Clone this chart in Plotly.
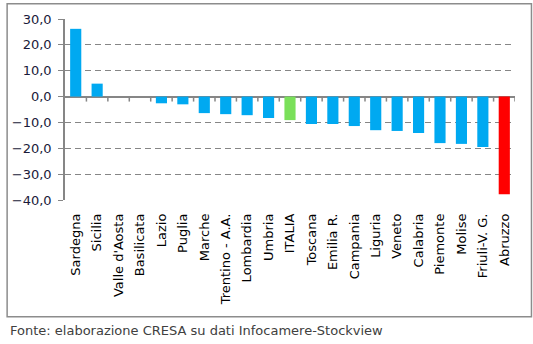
import plotly.graph_objects as go

regions = ["Sardegna", "Sicilia", "Valle d'Aosta", "Basilicata", "Lazio", "Puglia",
           "Marche", "Trentino - A.A.", "Lombardia", "Umbria", "ITALIA", "Toscana",
           "Emilia R.", "Campania", "Liguria", "Veneto", "Calabria", "Piemonte",
           "Molise", "Friuli-V. G.", "Abruzzo"]
values = [26.2, 5.0, 0.0, 0.0, -2.6, -3.0, -6.4, -6.8, -7.2, -8.3, -9.1, -10.6,
          -10.6, -11.4, -13.0, -13.3, -14.1, -18.0, -18.3, -19.5, -37.8]
y_ticks = [30, 20, 10, 0, -10, -20, -30, -40]

BLUE = "#00A9F1"
GREEN = "#7AE05A"
RED = "#FF0000"
colors = [GREEN if r == "ITALIA" else RED if r == "Abruzzo" else BLUE for r in regions]

W, H = 533, 344
ML, MR, MT, MB = 64, 18, 17, 144
pw, ph = W - ML - MR, H - MT - MB

fig = go.Figure(go.Bar(x=regions, y=values, marker=dict(color=colors, line=dict(width=0))))

shapes = []
# tick marks below the zero line, between categories
for i in range(len(regions)):
    shapes.append(dict(type="line", xref="x", yref="y", ysizemode="pixel", yanchor=0,
                       x0=i + 0.5, x1=i + 0.5, y0=0, y1=-5,
                       line=dict(color="#868686", width=1.5)))
# outer frame
shapes.append(dict(type="rect", xref="paper", yref="paper",
                   x0=(6 - ML) / pw, x1=(531.5 - ML) / pw,
                   y0=(H - 318 - MB) / ph, y1=(H - 1.5 - MB) / ph,
                   line=dict(color="#8C8C8C", width=1.5), fillcolor="rgba(0,0,0,0)"))

fig.update_layout(
    width=W, height=H,
    margin=dict(l=ML, r=MR, t=MT, b=MB),
    paper_bgcolor="white", plot_bgcolor="white",
    bargap=0.48, showlegend=False,
    separators=", ",
    font=dict(family="DejaVu Sans", size=13, color="#1A1A3A"),
    shapes=shapes,
    xaxis=dict(type="category", showgrid=False, showline=False, ticks="",
               tickangle=-90, tickfont=dict(size=13, color="#000000"),
               ticklabelstandoff=10, range=[-0.5, len(regions) - 0.5]),
    yaxis=dict(range=[-40, 30], tickvals=y_ticks, tickformat=".1f",
               showgrid=True, gridcolor="#868686", griddash="6px,4px", gridwidth=1.3,
               zeroline=True, zerolinecolor="#868686", zerolinewidth=1.5,
               showline=True, linecolor="#868686", linewidth=1.5,
               ticks="outside", ticklen=5, tickcolor="#868686",
               ticklabelstandoff=4,
               tickfont=dict(size=13, color="#1A1A3A")),
    annotations=[dict(text="Fonte: elaborazione CRESA su dati Infocamere-Stockview",
                      xref="paper", yref="paper",
                      x=(7 - ML) / pw, y=(H - 332 - MB) / ph,
                      xanchor="left", yanchor="middle", showarrow=False,
                      font=dict(family="DejaVu Sans", size=13, color="#404040"))],
)

fig.write_html("out.html")
